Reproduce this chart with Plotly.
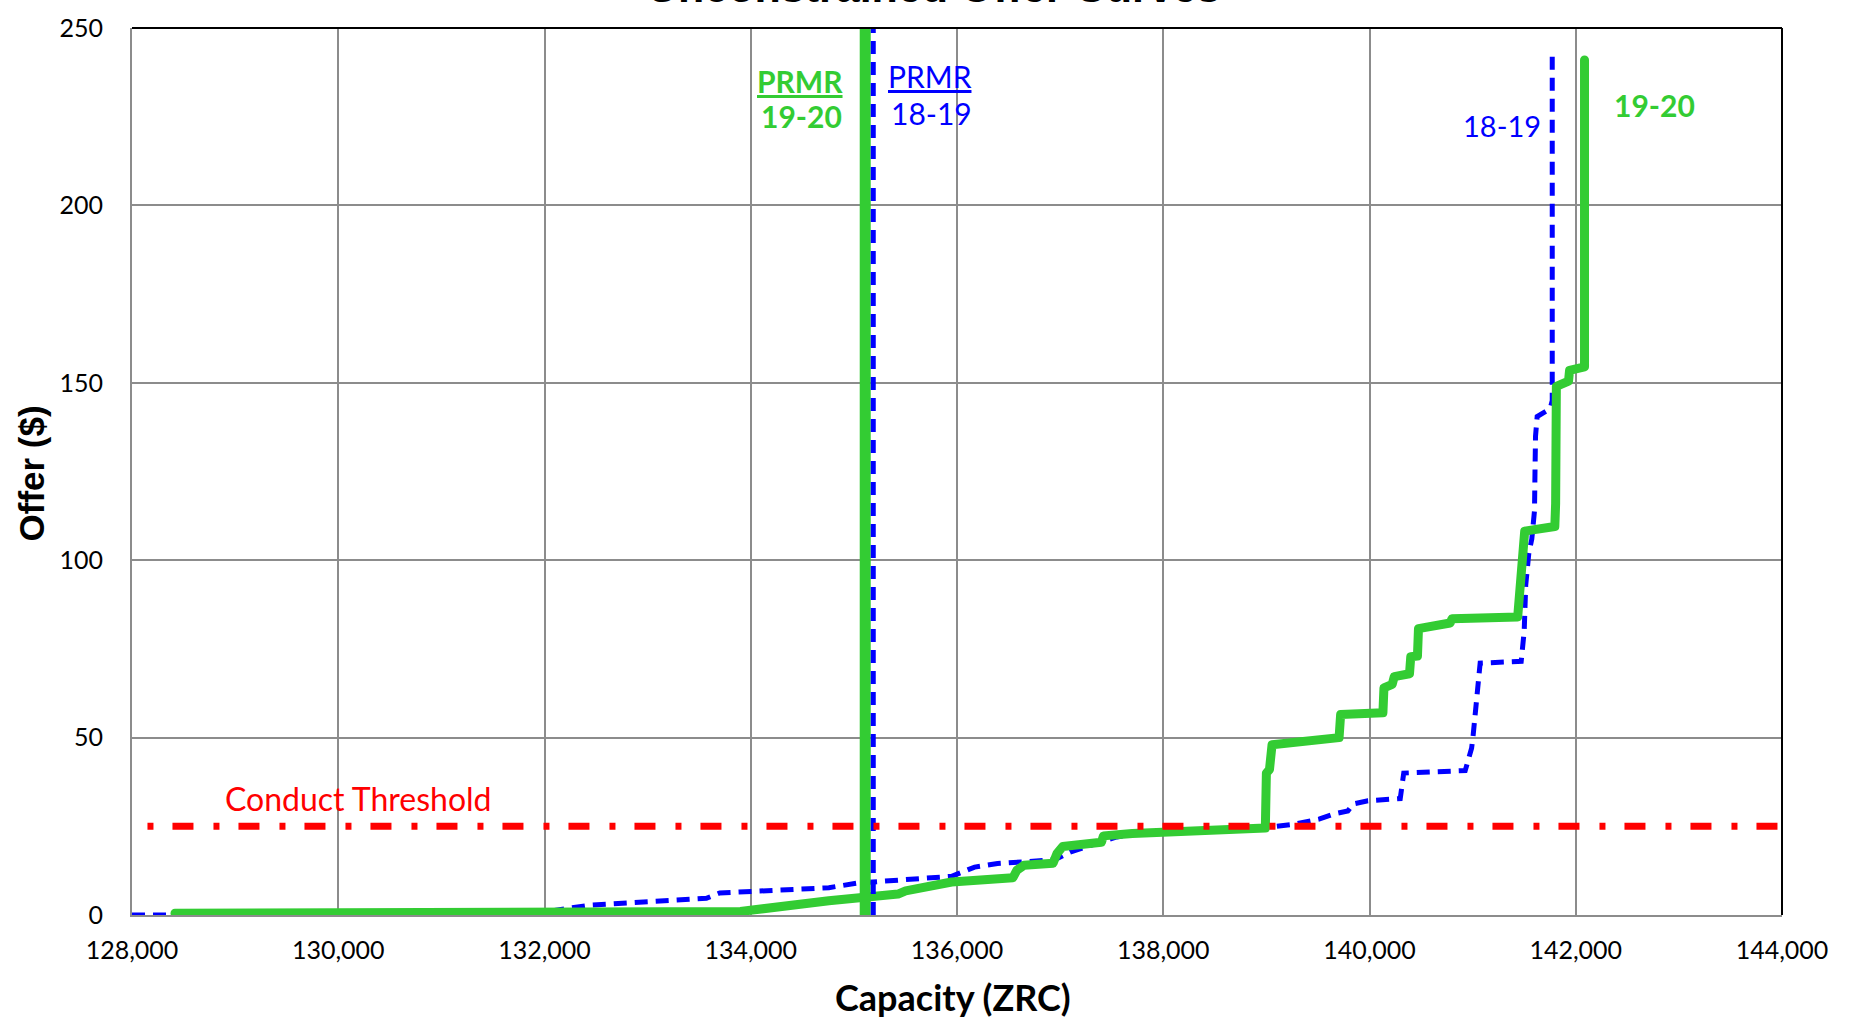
import plotly.graph_objects as go

# ---------------- data ----------------
cap_1920 = [128417, 132000, 133900, 134757, 135055, 135428, 135502, 135911, 135948,
            136542, 136580, 136650, 136932, 136969, 137025, 137400, 137420, 137700,
            138990, 139000, 139030, 139055, 139705, 139720, 140130, 140140, 140220,
            140240, 140388, 140400, 140465, 140475, 140782, 140800, 141437, 141505,
            141797, 141805, 141812, 141930, 141940, 142085, 142085]
offer_1920 = [0.5, 0.7, 1.0, 4.0, 4.9, 5.9, 6.8, 8.6, 9.3,
              10.5, 12.6, 14.0, 14.6, 17.3, 19.3, 20.5, 22.3, 23.0,
              24.5, 40.0, 41.0, 48.0, 50.0, 56.5, 57.0, 64.0, 65.0,
              67.2, 68.0, 72.8, 73.0, 80.7, 82.3, 83.5, 84.0, 108.2,
              109.5, 116.0, 149.0, 150.5, 153.5, 154.5, 241.0]

cap_1819 = [128000, 128420, 128440, 132000, 132232, 132454, 133570, 133699, 134757,
            135037, 135948, 136171, 136393, 136952, 137097, 137300, 137550, 137800,
            138500, 138990, 139250, 139510, 139660, 139790, 139840, 139985, 140298,
            140332, 140928, 140990, 141003, 141073, 141471, 141500, 141515, 141545,
            141574, 141600, 141605, 141610, 141626, 141714, 141757, 141772, 141772]
offer_1819 = [0.0, 0.0, 0.5, 0.8, 1.9, 2.8, 4.7, 6.2, 7.7,
              9.0, 10.9, 13.5, 14.5, 15.6, 17.7, 19.5, 22.0, 23.3,
              24.0, 24.6, 25.5, 27.0, 28.5, 29.3, 31.3, 32.2, 32.8,
              40.0, 40.7, 47.0, 50.0, 71.0, 71.5, 80.0, 93.0, 102.0,
              106.0, 114.0, 125.5, 135.0, 140.5, 142.0, 143.3, 145.0, 243.0]

prmr_1920 = 135110
prmr_1819 = 135188
conduct_threshold = 25
threshold_start = 128150

x_ticks = [128000, 130000, 132000, 134000, 136000, 138000, 140000, 142000, 144000]
y_ticks = [0, 50, 100, 150, 200, 250]
x_range = [128000, 144000]
y_range = [0, 250]

GREEN = "#33CC33"
BLUE = "#0000FF"
RED = "#FF0000"

W, H = 1855, 1021
ML, MR, MT, MB = 132, 73, 21, 106
PW = W - ML - MR
PH = H - MT - MB


def px_x(p):
    return (p - ML) / PW


def px_y(p):
    return 1 - (p - MT) / PH


fig = go.Figure()

BLUE_DASH = "13px,8px"

# 18-19 offer curve
fig.add_trace(go.Scatter(x=cap_1819, y=offer_1819, mode="lines",
                         line=dict(color=BLUE, width=5, dash=BLUE_DASH),
                         hoverinfo="skip", showlegend=False))
# 19-20 offer curve
fig.add_trace(go.Scatter(x=cap_1920, y=offer_1920, mode="lines",
                         line=dict(color=GREEN, width=9),
                         hoverinfo="skip", showlegend=False))
# PRMR lines
fig.add_trace(go.Scatter(x=[prmr_1920, prmr_1920], y=y_range, mode="lines",
                         line=dict(color=GREEN, width=11),
                         hoverinfo="skip", showlegend=False))
fig.add_trace(go.Scatter(x=[prmr_1819, prmr_1819], y=y_range, mode="lines",
                         line=dict(color=BLUE, width=5, dash=BLUE_DASH),
                         hoverinfo="skip", showlegend=False))
# Conduct threshold
fig.add_trace(go.Scatter(x=[threshold_start, x_range[1]],
                         y=[conduct_threshold, conduct_threshold], mode="lines",
                         line=dict(color=RED, width=7, dash="6px,19px,21px,20px"),
                         hoverinfo="skip", showlegend=False))

LATO = "Lato"


def label(text, cx, baseline, color, size, bold=False, font=LATO, asc=0.387):
    t = f"<b>{text}</b>" if bold else text
    fig.add_annotation(text=t, xref="paper", yref="paper",
                       x=px_x(cx), y=px_y(baseline - asc * size),
                       xanchor="center", yanchor="middle", showarrow=False,
                       font=dict(family=font, size=size, color=color))


label("<u>PRMR</u>", 800, 86, GREEN, 30, bold=True)
label("19-20", 801, 121, GREEN, 30, bold=True)
label("<u>PRMR</u>", 930, 81, BLUE, 30)
label("18-19", 931, 118, BLUE, 30)
label("18-19", 1502, 130, BLUE, 29)
label("19-20", 1654, 110, GREEN, 30, bold=True)
label("Conduct Threshold", 358, 810, RED, 32)

# axis titles
label("Capacity (ZRC)", 953, 1012, "#000000", 36, bold=True)
fig.add_annotation(text="<b>Offer ($)</b>", xref="paper", yref="paper",
                   x=px_x(31), y=px_y(470), xanchor="center", yanchor="middle",
                   textangle=-90, showarrow=False,
                   font=dict(family="Liberation Sans", size=35, color="#000000"))
# chart title (mostly cut off at the top of the image)
fig.add_annotation(text="<b>Unconstrained Offer Curves</b>", xref="paper", yref="paper",
                   x=px_x(933), y=1, xanchor="center", yanchor="bottom",
                   yshift=15, showarrow=False,
                   font=dict(family="Liberation Sans", size=43, color="#000000"))

# top and right borders (black)
fig.add_shape(type="line", xref="paper", yref="paper", x0=0, x1=1, y0=1, y1=1,
              line=dict(color="#000000", width=2))
fig.add_shape(type="line", xref="paper", yref="paper", x0=1, x1=1, y0=0, y1=1,
              line=dict(color="#000000", width=2))

fig.update_layout(
    width=W, height=H,
    margin=dict(l=ML, r=MR, t=MT, b=MB, pad=0),
    paper_bgcolor="white", plot_bgcolor="white",
    showlegend=False,
    font=dict(family=LATO, size=25, color="#000000"),
)
fig.update_xaxes(range=x_range, tickvals=x_ticks,
                 ticktext=[f"{v:,}" for v in x_ticks],
                 showgrid=True, gridcolor="#8C8C8C", gridwidth=2,
                 showline=True, linecolor="#8C8C8C", linewidth=2,
                 zeroline=False, ticks="", ticklabelstandoff=12,
                 tickfont=dict(family=LATO, size=25, color="#000000"))
fig.update_yaxes(range=y_range, tickvals=y_ticks,
                 showgrid=True, gridcolor="#8C8C8C", gridwidth=2,
                 showline=True, linecolor="#8C8C8C", linewidth=2,
                 zeroline=False, ticks="", ticklabelstandoff=22,
                 tickfont=dict(family=LATO, size=25, color="#000000"))

post = (
    "document.body.style.margin='0';"
    "document.body.style.overflow='hidden';"
    "document.querySelectorAll('path.js-line').forEach(function(p){"
    "var d=p.style.strokeDasharray;"
    "if(!d||d==='none'){p.style.strokeLinecap='round';p.style.strokeLinejoin='round';}});"
)
fig.write_html("out.html", config={"displayModeBar": False}, post_script=post)
